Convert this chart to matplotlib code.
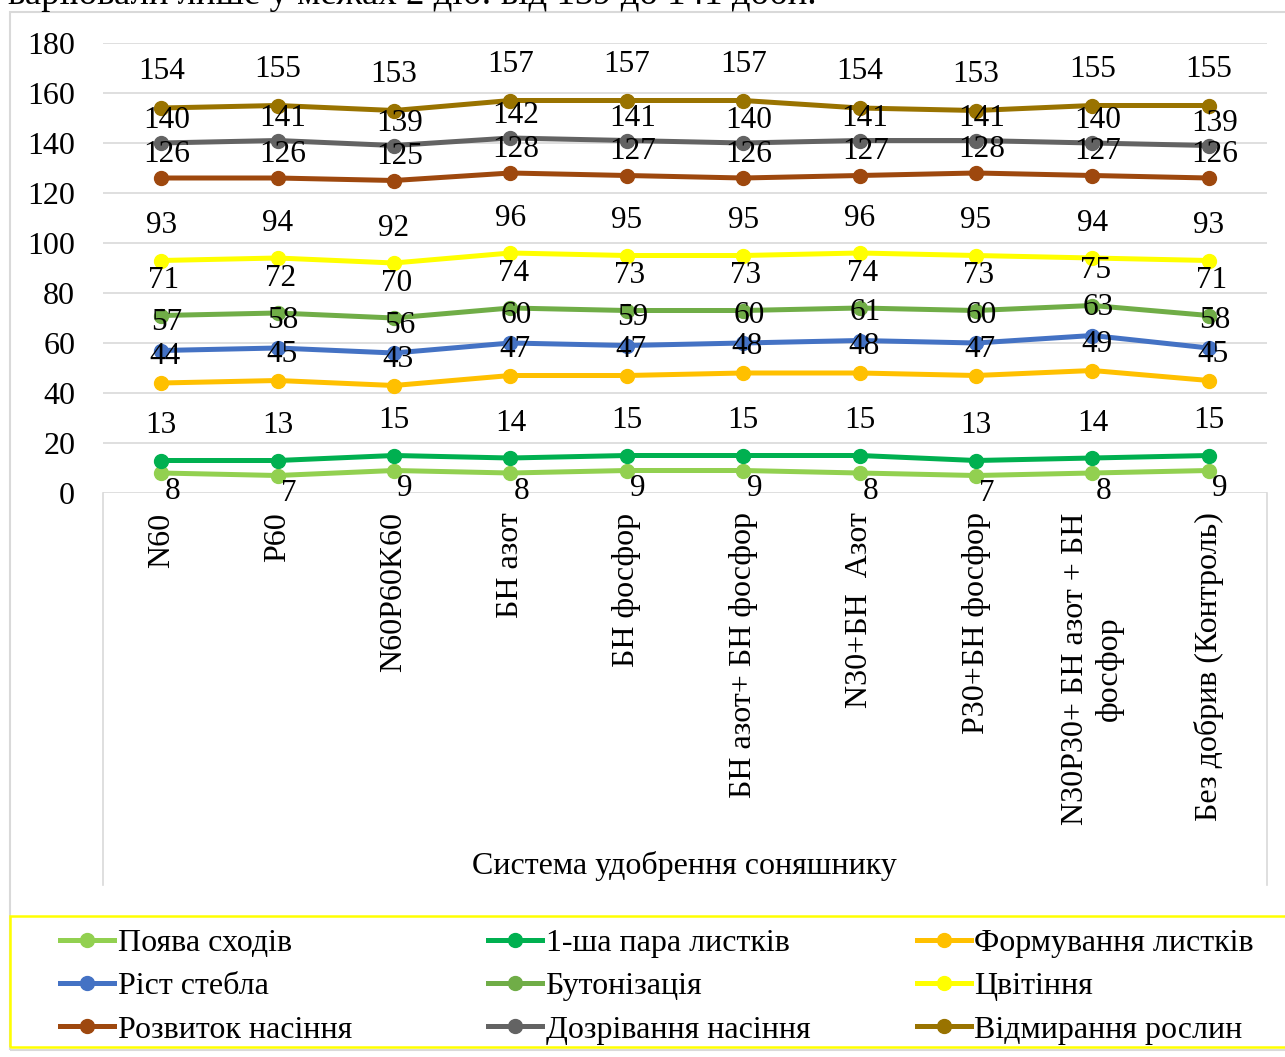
import matplotlib.pyplot as plt
from matplotlib.lines import Line2D
from matplotlib.patches import Rectangle

plt.rcParams['font.family'] = ['Liberation Serif', 'DejaVu Serif']

categories = ['N60', 'P60', 'N60P60K60', 'БН азот', 'БН фосфор',
              'БН азот+ БН фосфор', 'N30+БН  Азот', 'P30+БН фосфор',
              'N30P30+ БН азот + БН\nфосфор', 'Без добрив (Контроль)']

series_names = ['Поява сходів', '1-ша пара листків', 'Формування листків',
                'Ріст стебла', 'Бутонізація', 'Цвітіння',
                'Розвиток насіння', 'Дозрівання насіння', 'Відмирання рослин']

pojava = [8, 7, 9, 8, 9, 9, 8, 7, 8, 9]
para_lystkiv = [13, 13, 15, 14, 15, 15, 15, 13, 14, 15]
formuvannia = [44, 45, 43, 47, 47, 48, 48, 47, 49, 45]
rist = [57, 58, 56, 60, 59, 60, 61, 60, 63, 58]
butonizacia = [71, 72, 70, 74, 73, 73, 74, 73, 75, 71]
cvitinnia = [93, 94, 92, 96, 95, 95, 96, 95, 94, 93]
rozvytok = [126, 126, 125, 128, 127, 126, 127, 128, 127, 126]
dozrivannia = [140, 141, 139, 142, 141, 140, 141, 141, 140, 139]
vidmyrannia = [154, 155, 153, 157, 157, 157, 154, 153, 155, 155]

values = [pojava, para_lystkiv, formuvannia, rist, butonizacia,
          cvitinnia, rozvytok, dozrivannia, vidmyrannia]

colors = ['#92D050', '#00B050', '#FFC000', '#4472C4', '#70AD47',
          '#FFFF00', '#9E480E', '#636363', '#997300']

# label offsets in points (dx, dy), roughly like the reference
label_off = [(8, -13), (0, 25), (3, 19), (4, 20), (2, 25),
             (0, 25), (4, 17), (4, 16), (0, 26)]

FS = 23
W, H = 1285, 1057
fig = plt.figure(figsize=(W / 100, H / 100), dpi=100)

# outer chart border and legend frame
fig.patches.append(Rectangle((10 / W, 1 - 1050 / H), 1.0, (1050 - 12) / H,
                             transform=fig.transFigure, fill=False,
                             edgecolor='#D9D9D9', lw=1.5))
fig.patches.append(Rectangle((10 / W, 1 - 1047 / H), 1.0, (1047 - 916) / H,
                             transform=fig.transFigure, fill=False,
                             edgecolor='#FFFF00', lw=1.8))

# clipped sentence from the page above the chart
fig.text(8 / W, 1 - 4 / H, 'варіювали лише у межах 2 діб: від 139 до 141 доби.',
         fontsize=26.5, va='baseline', ha='left')

ax = fig.add_axes([103 / W, 1 - 493 / H, 1164 / W, 450 / H])
x = list(range(len(categories)))

for vals, name, c, (dx, dy) in zip(values, series_names, colors, label_off):
    ax.plot(x, vals, color=c, lw=3.6, marker='o', markersize=10, label=name,
            solid_capstyle='round', zorder=3)
    for xi, v in zip(x, vals):
        ax.annotate(str(v), (xi, v), xytext=(dx, dy), textcoords='offset points',
                    ha='center', va='center', fontsize=22.5, zorder=4)

ax.set_xlim(-0.5, len(categories) - 0.5)
ax.set_ylim(0, 180)
ax.set_yticks(range(0, 181, 20))
ax.grid(axis='y', color='#D9D9D9', lw=1.2)
ax.set_axisbelow(True)
for s in ax.spines.values():
    s.set_visible(False)
ax.tick_params(axis='y', length=0, labelsize=FS, pad=20)
ax.tick_params(axis='x', length=0, labelsize=FS, pad=14)
ax.set_xticks(x)
ax.set_xticklabels(categories, rotation=90, va='top', ha='center',
                   multialignment='center')

# box lines around the category label area
ax.plot([-0.5, -0.5], [0, -156.8], color='#D9D9D9', lw=1.2, clip_on=False)
ax.plot([len(categories) - 0.5] * 2, [0, -156.8], color='#D9D9D9', lw=1.2,
        clip_on=False)

fig.text(684 / W, 1 - 866 / H, 'Система удобрення соняшнику', fontsize=FS,
         ha='center', va='center')

# legend: three columns, row-major order as in the reference
handles = [Line2D([], [], color=c, lw=3.6, marker='o', markersize=10)
           for c in colors]
col_x = [60, 488, 917]
for col in range(3):
    idx = [col, col + 3, col + 6]
    fig.legend([handles[i] for i in idx], [series_names[i] for i in idx],
               loc='upper left', bbox_to_anchor=(col_x[col] / W, 1 - 929 / H),
               frameon=False, fontsize=FS, handlelength=1.7,
               handletextpad=0.1, labelspacing=0.43, borderpad=0,
               borderaxespad=0)

fig.savefig('out.png', dpi=100)
